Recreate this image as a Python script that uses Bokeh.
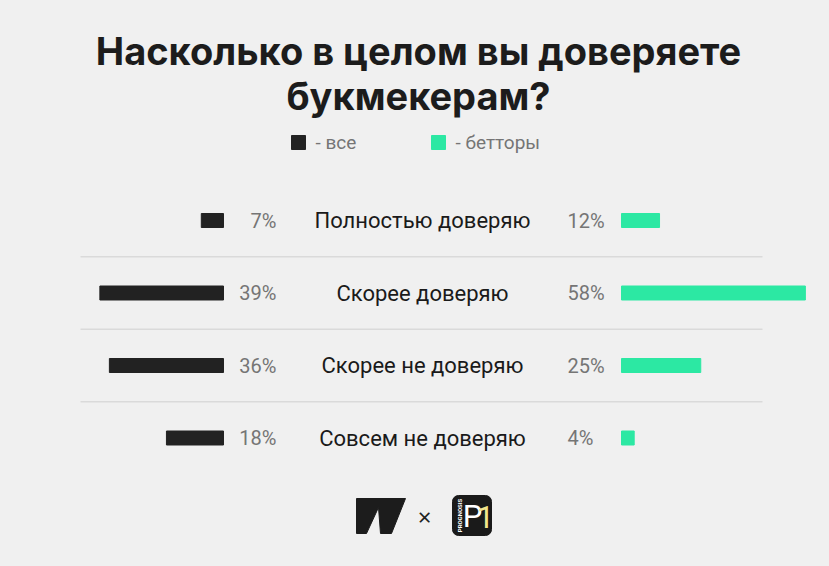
from bokeh.plotting import figure
from bokeh.models import Range1d, ColumnDataSource, GlobalInlineStyleSheet
from bokeh.core.properties import value
from bokeh.embed import file_html
from bokeh.resources import INLINE

# ---- data ----
title_lines = ["Насколько в целом вы доверяете", "букмекерам?"]
categories = ["Полностью доверяю", "Скорее доверяю", "Скорее не доверяю", "Совсем не доверяю"]
all_vals = [7, 39, 36, 18]
bettor_vals = [12, 58, 25, 4]
legend_labels = ["- все", "- бетторы"]

BG = "#f0f0f0"
BLACK = "#222222"
GREEN = "#2ce8a3"
GRAY = "#757575"

W, H = 829, 560
p = figure(width=W, height=H, x_range=Range1d(0, W), y_range=Range1d(H, 0),
           toolbar_location=None, output_backend="svg", min_border=0)
p.axis.visible = False
p.grid.visible = False
p.outline_line_color = None
p.background_fill_color = BG
p.border_fill_color = BG
p.stylesheets = [GlobalInlineStyleSheet(css="html,body{background:%s;margin:0;overflow:hidden;}" % BG)]

# scales: percent -> pixels (3.17 px per percent)
PX = 3.17
L0, R0 = 223, 621
p.extra_x_ranges = {
    "left": Range1d(start=L0 / PX, end=-(W - L0) / PX),
    "right": Range1d(start=-R0 / PX, end=(W - R0) / PX),
}
ROW0, ROWSTEP = 220, 72.5
p.extra_y_ranges = {"rows": Range1d(start=(H - ROW0) / ROWSTEP, end=(0 - ROW0) / ROWSTEP)}

rows = list(range(len(categories)))
src = ColumnDataSource(dict(
    row=rows, cat=categories, a=all_vals, b=bettor_vals,
    a_lbl=[f"{v}%" for v in all_vals], b_lbl=[f"{v}%" for v in bettor_vals],
    zero=[0] * len(rows),
))

# separators
seps = ColumnDataSource(dict(y=[r + 0.5 for r in rows[:-1]]))
p.segment(x0=80, x1=762, y0="y", y1="y", source=seps, y_range_name="rows",
          line_color="#dadada", line_width=1.3)

p.hbar(y="row", left="zero", right="a", height=14 / ROWSTEP, source=src,
       x_range_name="left", y_range_name="rows", color=BLACK)
p.hbar(y="row", left="zero", right="b", height=14 / ROWSTEP, source=src,
       x_range_name="right", y_range_name="rows", color=GREEN)

p.text(x=276, y="row", text="a_lbl", source=src, y_range_name="rows",
       text_align="right", text_baseline="middle", text_color=GRAY,
       text_font=value("Roboto"), text_font_size="20px")
p.text(x=567, y="row", text="b_lbl", source=src, y_range_name="rows",
       text_align="left", text_baseline="middle", text_color=GRAY,
       text_font=value("Roboto"), text_font_size="20px")
p.text(x=422, y="row", text="cat", source=src, y_range_name="rows",
       text_align="center", text_baseline="middle", text_color="#1a1a1a",
       text_font=value("Roboto"), text_font_size="22px")

# title
p.text(x=[418, 418], y=[50, 95], text=title_lines, text_align="center",
       text_baseline="middle", text_color="#1c1c1c", text_font=value("Inter"),
       text_font_style="bold", text_font_size="38px")

# legend
p.rect(x=[298, 438], y=[142, 142], width=14, height=14, color=[BLACK, GREEN])
p.text(x=[315, 455], y=[142, 142], text=legend_labels, text_align="left",
       text_baseline="middle", text_color=GRAY, text_font=value("Roboto"),
       text_font_size="19px")

# logos
p.patch(x=[356, 405, 391, 380, 378, 366, 356], y=[498, 498, 533, 533, 507, 533, 533],
        color="#1c1c1c")
p.text(x=[424], y=[516], text=["×"], text_align="center", text_baseline="middle",
       text_color="#222222", text_font=value("Noto Sans"), text_font_size="24px")
p.quad(left=[452], right=[491], top=[495], bottom=[535], color="#1a1a1a", border_radius=6)
p.text(x=[472], y=[516], text=["P"], text_align="center", text_baseline="middle",
       text_color="white", text_font=value("Roboto"), text_font_size="31px")
p.text(x=[485], y=[516], text=["1"], text_align="center", text_baseline="middle",
       text_color="#f3e68d", text_font=value("Roboto"), text_font_size="31px")
p.text(x=[459], y=[515], text=["PROGNOSIS"], angle=1.5708, text_align="center",
       text_baseline="middle", text_color="white", text_font=value("Roboto"),
       text_font_size="6px", text_font_style="bold")

open("out.html", "w").write(file_html(p, INLINE))
